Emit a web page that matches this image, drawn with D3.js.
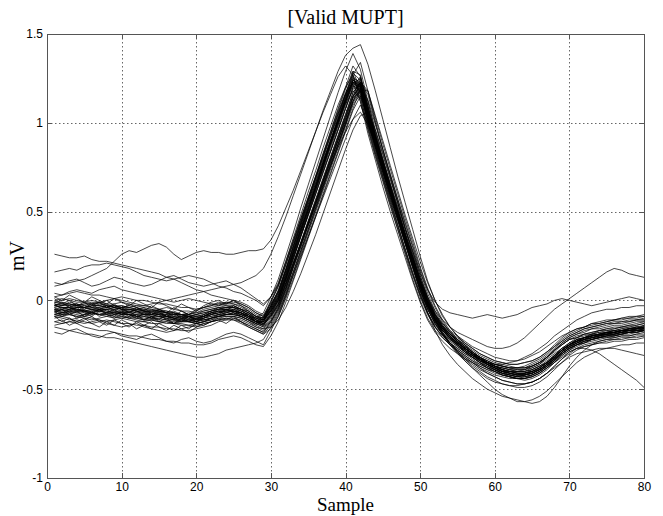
<!DOCTYPE html>
<html>
<head>
<meta charset="utf-8">
<script src="https://cdn.jsdelivr.net/npm/d3@7"></script>
<style>
  body { margin: 0; background: #fff; }
  .tick text { font-family: "Liberation Sans", Arial, sans-serif; font-size: 12px; fill: #000; }
  .lbl { font-family: "Liberation Serif", "Times New Roman", serif; fill: #000; }
</style>
</head>
<body>
<div id="chart"></div>
<script>
// Chart labels and ticks
var title = "[Valid MUPT]";
var xLabel = "Sample";
var yLabel = "mV";
var xTicks = [0, 10, 20, 30, 40, 50, 60, 70, 80];
var yTicks = [-1, -0.5, 0, 0.5, 1, 1.5];

// Waveforms, one value per sample (samples 1..80), in 0.01 mV
var core01 = [-3,-4,-4,-6,-5,-4,-4,-6,-7,-6,-5,-6,-8,-8,-7,-9,-10,-9,-11,-10,-9,-7,-6,-6,-5,-7,-9,-12,-12,-5,2,14,27,39,51,63,75,88,99,111,124,121,104,89,75,61,48,34,21,8,-3,-11,-16,-20,-24,-27,-30,-33,-35,-37,-39,-40,-41,-42,-40,-38,-35,-31,-27,-25,-23,-22,-20,-20,-18,-18,-17,-16,-16,-15];
var core02 = [-1,-1,-2,-3,-2,-1,-2,-3,-3,-4,-3,-4,-5,-5,-6,-6,-7,-8,-7,-8,-6,-5,-4,-3,-3,-5,-6,-9,-10,-1,8,20,33,46,58,70,83,95,107,119,129,119,100,85,70,57,43,29,15,3,-7,-14,-19,-22,-25,-28,-31,-33,-36,-38,-39,-40,-40,-40,-38,-36,-32,-29,-25,-22,-21,-19,-18,-17,-16,-15,-15,-14,-13,-12];
var core03 = [-7,-8,-7,-8,-9,-8,-7,-8,-9,-10,-9,-10,-11,-11,-12,-12,-13,-13,-14,-13,-12,-11,-10,-9,-9,-10,-12,-15,-16,-11,-4,6,18,30,42,54,66,78,90,102,115,125,112,96,82,68,55,41,28,14,2,-7,-14,-19,-23,-27,-30,-33,-36,-38,-40,-42,-43,-43,-42,-40,-37,-33,-30,-27,-25,-24,-22,-21,-20,-20,-19,-18,-18,-17];
var core04 = [-5,-6,-5,-4,-3,-4,-5,-5,-4,-5,-6,-6,-6,-7,-8,-8,-8,-9,-9,-11,-10,-9,-8,-7,-6,-7,-9,-11,-13,-7,0,11,23,36,48,60,73,84,96,108,120,126,110,93,78,64,50,36,23,10,-1,-9,-15,-19,-22,-26,-29,-32,-35,-38,-40,-41,-42,-41,-40,-39,-36,-32,-28,-25,-22,-21,-20,-19,-19,-18,-17,-17,-16,-14];
var core05 = [-2,-3,-3,-2,-4,-5,-5,-4,-3,-4,-5,-5,-6,-6,-6,-7,-8,-8,-9,-9,-8,-7,-5,-4,-4,-5,-7,-10,-11,-4,4,17,30,43,56,69,82,95,108,120,132,126,107,91,76,62,47,33,19,6,-5,-13,-19,-24,-27,-30,-33,-36,-38,-40,-42,-43,-44,-44,-42,-40,-37,-33,-29,-26,-23,-21,-20,-19,-18,-17,-17,-16,-15,-15];
var core06 = [-8,-7,-6,-7,-8,-7,-6,-6,-7,-8,-8,-9,-9,-10,-10,-11,-11,-12,-12,-13,-12,-10,-9,-8,-8,-9,-11,-13,-14,-8,-1,9,21,32,44,55,67,79,90,102,114,118,102,87,73,60,46,33,20,8,-2,-10,-16,-20,-24,-27,-30,-33,-35,-37,-38,-39,-40,-40,-39,-37,-34,-31,-28,-25,-23,-22,-21,-20,-19,-19,-18,-17,-17,-16];
var core07 = [0,1,0,-1,-1,0,-1,-2,-2,-1,-2,-3,-3,-4,-5,-4,-5,-6,-6,-7,-5,-4,-3,-2,-2,-3,-5,-8,-10,-4,3,15,27,40,52,64,77,89,101,113,125,123,106,90,76,62,49,35,22,9,-2,-10,-15,-19,-22,-25,-28,-31,-33,-35,-36,-37,-38,-38,-37,-35,-32,-28,-24,-21,-19,-17,-16,-15,-14,-13,-13,-12,-11,-11];
var core08 = [-9,-10,-11,-10,-9,-10,-11,-12,-11,-10,-11,-12,-12,-13,-13,-12,-13,-14,-14,-15,-13,-12,-11,-10,-10,-11,-13,-15,-17,-12,-5,6,19,31,44,56,68,80,92,104,117,122,108,92,77,63,50,37,24,11,0,-9,-15,-20,-24,-28,-31,-34,-37,-39,-41,-43,-44,-45,-44,-42,-39,-35,-31,-28,-26,-24,-23,-22,-21,-21,-20,-20,-19,-19];
var core09 = [-4,-3,-2,-3,-4,-3,-3,-4,-5,-4,-4,-5,-6,-6,-7,-7,-8,-8,-8,-9,-8,-6,-5,-5,-6,-8,-10,-12,-9,0,9,22,35,48,61,73,86,98,110,120,127,115,97,82,68,54,40,26,12,0,-10,-17,-21,-25,-28,-31,-34,-36,-38,-39,-40,-40,-40,-39,-37,-35,-32,-28,-25,-22,-21,-20,-19,-18,-17,-17,-16,-15,-15,-14];
var core10 = [-5,-5,-6,-7,-6,-5,-6,-7,-7,-8,-8,-8,-9,-10,-9,-10,-11,-11,-12,-12,-11,-10,-8,-8,-7,-8,-10,-13,-15,-12,-5,5,16,28,40,52,64,76,88,100,112,123,116,100,85,71,57,43,30,16,4,-6,-13,-18,-22,-25,-29,-32,-35,-37,-39,-41,-42,-42,-41,-39,-37,-34,-30,-27,-24,-22,-21,-20,-19,-18,-18,-17,-16,-16];
var core11 = [-2,-3,-1,-2,-3,-2,-1,-3,-4,-3,-4,-3,-4,-5,-6,-7,-6,-8,-9,-8,-7,-6,-5,-5,-4,-6,-8,-11,-11,-5,2,13,26,38,50,62,75,87,99,112,123,121,104,89,74,60,47,33,20,7,-4,-12,-18,-22,-26,-29,-32,-35,-37,-39,-41,-42,-43,-42,-41,-39,-36,-33,-29,-26,-24,-22,-21,-20,-19,-19,-18,-18,-17,-17];
var core12 = [-6,-6,-5,-6,-7,-6,-6,-7,-8,-7,-7,-8,-8,-9,-9,-10,-11,-11,-11,-12,-10,-9,-8,-7,-6,-7,-9,-12,-13,-7,0,12,24,36,48,60,72,84,96,108,120,122,105,89,75,61,48,35,22,9,-2,-10,-16,-20,-24,-27,-30,-33,-35,-37,-39,-40,-41,-41,-39,-37,-35,-32,-28,-25,-23,-21,-20,-19,-18,-18,-17,-16,-16,-15];
var core13 = [-3,-4,-5,-4,-4,-5,-6,-5,-5,-6,-7,-7,-7,-8,-8,-9,-9,-10,-10,-9,-9,-8,-7,-6,-6,-7,-9,-12,-12,-6,0,10,21,32,43,54,65,76,86,95,102,106,99,88,75,62,49,36,23,10,-1,-10,-16,-20,-24,-27,-30,-33,-35,-37,-38,-39,-40,-40,-39,-37,-35,-32,-28,-25,-23,-21,-20,-19,-19,-18,-17,-17,-16,-16];
var core14 = [-5,-4,-4,-5,-6,-6,-5,-5,-6,-7,-6,-7,-8,-8,-9,-9,-10,-10,-11,-11,-10,-8,-7,-6,-6,-7,-9,-12,-14,-9,-2,10,23,36,49,62,75,88,101,114,127,134,118,101,85,70,55,40,26,12,0,-9,-16,-21,-25,-29,-32,-35,-38,-40,-42,-43,-44,-44,-43,-41,-38,-34,-30,-27,-25,-23,-22,-21,-20,-19,-19,-18,-17,-17];
var core15 = [4,3,4,5,4,3,3,2,1,2,1,0,0,-1,-2,-2,-3,-4,-4,-5,-4,-3,-2,-1,-1,-2,-4,-7,-9,-4,3,15,28,40,52,64,76,88,100,112,122,120,103,88,74,61,48,35,22,10,0,-8,-14,-18,-21,-24,-27,-30,-32,-34,-35,-36,-36,-35,-34,-32,-29,-25,-21,-18,-16,-15,-13,-12,-11,-11,-10,-9,-9,-8];
var core16 = [-12,-13,-12,-11,-12,-13,-12,-11,-12,-13,-13,-14,-14,-15,-15,-16,-16,-17,-17,-16,-15,-14,-12,-11,-11,-12,-14,-16,-18,-13,-6,4,16,28,40,52,64,76,88,100,112,120,106,91,77,63,50,36,23,10,-1,-11,-18,-24,-29,-33,-37,-40,-43,-45,-47,-48,-49,-49,-48,-46,-43,-39,-35,-31,-28,-26,-25,-24,-23,-22,-22,-21,-21,-20];
var core17 = [-3,-2,-3,-4,-4,-3,-3,-2,-4,-5,-5,-6,-6,-7,-7,-8,-9,-9,-10,-10,-9,-7,-6,-5,-5,-6,-8,-11,-12,-6,1,13,26,39,51,64,77,89,102,115,128,124,106,90,76,62,48,34,21,8,-3,-11,-17,-21,-25,-28,-31,-34,-36,-38,-40,-41,-42,-42,-41,-39,-36,-32,-28,-25,-22,-21,-19,-18,-18,-17,-16,-16,-15,-15];
var core18 = [-8,-7,-7,-6,-6,-7,-8,-8,-7,-7,-8,-9,-10,-10,-11,-11,-12,-12,-11,-12,-11,-10,-9,-8,-7,-8,-10,-12,-14,-9,-2,9,21,33,45,57,69,81,93,105,117,123,109,93,79,65,51,38,25,12,1,-8,-15,-19,-23,-27,-30,-33,-36,-38,-40,-41,-41,-41,-40,-38,-35,-32,-28,-25,-23,-22,-20,-19,-19,-18,-17,-17,-16,-16];
var core19 = [-1,-2,-2,-3,-2,-2,-3,-4,-3,-3,-4,-5,-5,-6,-6,-7,-7,-8,-8,-7,-6,-5,-4,-4,-3,-5,-7,-10,-11,-5,2,14,27,40,52,64,76,89,101,113,124,122,105,90,75,61,48,35,21,8,-3,-11,-17,-21,-24,-27,-30,-32,-34,-36,-37,-38,-38,-38,-36,-34,-31,-27,-23,-20,-18,-16,-15,-14,-13,-13,-12,-12,-11,-11];
var core20 = [-9,-8,-8,-9,-8,-7,-8,-9,-10,-9,-10,-10,-11,-11,-12,-13,-13,-12,-12,-13,-12,-10,-9,-9,-9,-10,-12,-14,-11,-3,5,17,30,43,55,68,80,92,104,116,125,117,99,84,70,56,42,28,15,3,-7,-15,-20,-24,-28,-31,-34,-37,-39,-41,-42,-43,-44,-43,-42,-40,-37,-34,-30,-27,-25,-23,-22,-21,-20,-20,-19,-18,-18,-17];
var core21 = [-5,-8,-6,-4,-7,-9,-6,-5,-8,-7,-9,-6,-8,-10,-7,-9,-11,-8,-10,-12,-9,-7,-8,-5,-6,-8,-7,-11,-13,-9,-3,7,19,30,42,53,65,77,88,99,114,123,118,104,90,76,62,48,35,22,10,0,-8,-15,-20,-25,-29,-32,-35,-37,-39,-40,-41,-41,-40,-38,-35,-31,-28,-25,-22,-21,-19,-20,-18,-17,-18,-16,-15,-16];
var core22 = [-2,-5,-3,-6,-4,-2,-5,-3,-6,-4,-7,-5,-4,-8,-6,-9,-7,-10,-8,-11,-8,-6,-4,-6,-3,-5,-9,-10,-12,-3,6,18,31,44,57,69,81,93,105,116,122,112,94,79,64,50,37,24,11,-1,-11,-18,-23,-27,-30,-33,-35,-37,-39,-40,-41,-42,-42,-41,-40,-38,-35,-31,-27,-24,-21,-19,-19,-17,-17,-16,-15,-15,-14,-13];
var core23 = [1,-2,0,-3,-1,-4,-2,0,-3,-5,-2,-4,-6,-3,-5,-7,-4,-6,-8,-5,-4,-2,-3,-1,-2,-4,-6,-9,-10,-3,4,16,28,41,53,65,77,89,100,112,121,118,102,87,73,60,47,34,22,10,0,-8,-13,-17,-20,-23,-26,-28,-30,-32,-33,-34,-34,-33,-31,-29,-26,-23,-20,-18,-16,-15,-13,-13,-12,-11,-11,-10,-10,-9];
var core24 = [-9,-12,-10,-13,-11,-9,-12,-14,-11,-13,-15,-12,-14,-16,-13,-15,-17,-14,-16,-13,-14,-12,-10,-11,-9,-12,-14,-16,-18,-12,-4,7,19,31,43,55,67,79,91,103,115,121,107,92,78,64,50,37,24,11,-1,-11,-19,-25,-30,-34,-38,-41,-44,-46,-47,-48,-48,-47,-46,-44,-41,-37,-33,-29,-27,-25,-24,-23,-22,-22,-21,-21,-20,-20];
var core25 = [-6,-9,-7,-10,-8,-6,-9,-7,-5,-8,-10,-8,-11,-9,-12,-10,-13,-11,-9,-12,-10,-8,-7,-5,-7,-9,-8,-12,-14,-8,0,12,25,38,51,64,77,90,103,116,129,127,109,93,78,63,49,35,22,9,-2,-11,-17,-22,-25,-29,-32,-35,-37,-39,-41,-42,-43,-42,-41,-39,-36,-33,-29,-26,-24,-22,-21,-21,-19,-19,-18,-17,-17,-16];
var core26 = [-12,-11,-14,-12,-10,-13,-15,-12,-14,-11,-13,-16,-14,-12,-15,-17,-14,-16,-18,-15,-14,-12,-11,-13,-10,-12,-15,-17,-19,-16,-9,1,12,24,36,48,60,72,84,96,108,119,118,103,88,74,60,46,33,19,7,-3,-11,-17,-22,-26,-30,-33,-36,-38,-40,-41,-42,-42,-41,-39,-36,-33,-29,-26,-24,-23,-21,-20,-20,-19,-18,-18,-17,-17];
var core27 = [2,0,3,1,-1,2,0,-2,1,-1,-3,0,-2,-4,-1,-3,-5,-2,-4,-6,-3,-1,0,-2,0,-2,-4,-7,-9,-3,5,17,29,42,54,66,78,90,102,113,123,119,102,87,72,59,46,32,19,6,-4,-12,-17,-21,-25,-28,-31,-33,-35,-37,-38,-39,-39,-39,-37,-35,-32,-28,-24,-21,-19,-18,-16,-16,-15,-14,-14,-13,-12,-12];
var core28 = [-4,-7,-5,-3,-6,-8,-5,-7,-9,-6,-8,-10,-7,-9,-11,-8,-10,-12,-9,-11,-9,-8,-6,-7,-5,-7,-10,-12,-13,-8,-2,9,20,32,43,55,67,78,90,101,112,119,113,99,85,71,57,44,31,18,6,-4,-12,-18,-23,-27,-30,-34,-36,-39,-41,-42,-43,-43,-42,-40,-37,-34,-30,-27,-25,-23,-22,-21,-20,-20,-19,-18,-18,-17];
var core29 = [-7,-5,-8,-6,-9,-7,-5,-8,-10,-8,-6,-9,-11,-9,-8,-11,-13,-10,-12,-10,-9,-7,-6,-8,-7,-9,-11,-13,-10,-1,8,20,32,44,56,67,79,90,101,111,118,114,98,83,69,55,42,29,16,4,-7,-15,-21,-25,-29,-32,-35,-38,-40,-42,-43,-44,-44,-44,-43,-41,-38,-35,-31,-28,-25,-24,-22,-21,-21,-20,-19,-19,-18,-17];
var core30 = [-3,-1,-4,-2,-5,-3,-1,-4,-2,-5,-7,-4,-6,-8,-5,-7,-9,-6,-8,-6,-4,-3,-1,-2,0,-3,-6,-9,-11,-6,1,12,25,37,49,62,74,86,98,110,122,125,109,94,79,65,52,38,25,12,1,-8,-14,-19,-23,-26,-29,-32,-35,-37,-39,-40,-41,-41,-40,-38,-35,-32,-28,-25,-23,-21,-20,-19,-18,-18,-17,-16,-16,-15];

var odd01 = [26,25,24,24,25,23,22,22,21,20,19,18,17,16,15,13,12,10,8,6,5,3,2,1,0,-1,-3,-6,-8,-2,5,17,30,42,54,66,78,90,102,114,124,120,103,88,74,60,47,34,21,8,-3,-11,-17,-21,-24,-27,-30,-32,-34,-36,-37,-38,-38,-38,-37,-35,-32,-28,-25,-22,-20,-19,-18,-17,-16,-16,-15,-14,-14,-13];
var odd02 = [8,9,10,11,12,14,16,18,22,26,28,27,29,31,32,30,26,23,25,27,28,27,27,26,26,27,28,28,29,34,42,52,62,73,84,95,106,116,126,132,127,112,96,81,67,53,40,27,14,2,-8,-15,-20,-24,-27,-30,-32,-34,-35,-36,-36,-35,-34,-32,-30,-27,-24,-20,-17,-14,-11,-9,-7,-6,-5,-5,-4,-4,-3,-3];
var odd03 = [16,17,18,17,19,20,20,21,20,19,18,16,14,13,12,11,12,13,14,13,12,10,8,7,5,4,2,0,-3,2,10,22,34,46,58,70,82,94,106,117,126,122,106,91,77,63,50,37,24,12,2,-6,-11,-15,-18,-20,-22,-24,-26,-27,-27,-26,-24,-21,-17,-13,-9,-5,-2,1,4,7,10,13,16,18,17,15,14,13];
var odd04 = [-15,-16,-17,-18,-19,-19,-20,-21,-21,-22,-23,-24,-25,-26,-27,-28,-29,-30,-31,-32,-32,-31,-30,-28,-27,-26,-25,-24,-22,-15,-8,3,15,27,39,51,63,75,87,99,111,118,104,89,75,61,48,35,22,9,-2,-11,-18,-24,-29,-34,-38,-42,-46,-50,-53,-55,-57,-57,-56,-54,-51,-47,-43,-39,-35,-32,-30,-28,-27,-26,-25,-25,-24,-24];
var odd05 = [10,9,11,12,10,8,9,11,13,12,10,9,8,9,11,13,14,12,10,9,8,9,10,11,9,7,4,1,-2,2,9,21,33,45,57,69,81,93,105,116,123,118,101,86,72,58,45,32,19,6,-5,-13,-19,-23,-26,-29,-31,-33,-35,-36,-37,-38,-38,-37,-35,-33,-30,-26,-22,-19,-17,-15,-14,-13,-12,-11,-10,-10,-9,-9];
var odd06 = [-18,-19,-17,-16,-18,-20,-21,-19,-18,-20,-21,-22,-20,-19,-21,-23,-24,-22,-21,-23,-24,-23,-21,-19,-18,-19,-21,-23,-25,-17,-9,2,14,26,38,50,62,74,86,98,110,116,101,86,72,58,45,32,19,6,-5,-13,-19,-24,-28,-32,-35,-38,-41,-43,-45,-46,-47,-47,-46,-44,-41,-37,-33,-30,-27,-26,-25,-24,-24,-23,-23,-22,-22,-21];
var odd07 = [-1,0,1,0,-1,-2,-1,0,1,0,-1,-2,-3,-2,-1,0,1,2,3,4,5,6,7,8,9,10,12,14,18,26,36,47,59,71,83,95,107,118,129,138,142,144,133,118,102,86,70,55,40,25,11,0,-9,-15,-20,-24,-27,-30,-32,-34,-35,-36,-36,-35,-34,-32,-29,-26,-23,-20,-18,-16,-15,-14,-13,-12,-12,-11,-11,-10];
var odd08 = [-6,-5,-4,-5,-6,-5,-4,-3,-4,-5,-5,-6,-7,-6,-5,-6,-7,-8,-9,-8,-7,-6,-5,-4,-4,-6,-8,-10,-7,2,12,25,38,52,65,78,91,104,117,129,139,130,112,95,80,65,51,37,23,10,-1,-9,-15,-19,-23,-26,-29,-32,-34,-36,-37,-38,-39,-39,-38,-36,-33,-30,-27,-24,-22,-21,-20,-19,-18,-18,-17,-16,-16,-15];
var odd09 = [-10,-9,-8,-9,-10,-11,-10,-9,-8,-9,-10,-11,-12,-11,-10,-9,-10,-11,-12,-13,-12,-11,-9,-8,-8,-9,-11,-13,-15,-10,-3,8,20,32,44,56,68,80,92,104,115,120,106,91,76,62,49,35,22,9,-2,-10,-16,-21,-25,-29,-32,-35,-38,-40,-42,-43,-44,-44,-43,-41,-38,-35,-32,-29,-27,-27,-28,-30,-33,-36,-39,-42,-45,-49];
var odd10 = [-8,-9,-10,-12,-13,-12,-11,-13,-14,-15,-14,-13,-15,-16,-17,-18,-17,-16,-15,-14,-13,-12,-11,-10,-11,-13,-15,-17,-19,-14,-7,3,14,25,36,47,58,69,80,91,102,110,100,87,74,60,46,32,18,5,-7,-17,-25,-31,-36,-40,-44,-47,-50,-52,-54,-55,-56,-57,-58,-57,-54,-49,-43,-37,-32,-28,-25,-23,-22,-21,-20,-20,-19,-18];
var odd11 = [2,3,5,6,5,4,6,7,8,6,5,4,3,2,1,0,-1,0,1,0,-1,-2,-2,-3,-4,-5,-7,-9,-11,-6,1,12,24,36,48,60,72,84,96,108,119,121,106,92,79,66,53,40,28,16,6,-1,-5,-7,-8,-9,-10,-9,-8,-9,-10,-9,-8,-6,-4,-3,-2,0,1,0,-1,-2,-3,-2,-1,0,1,2,1,0];
var odd12 = [-14,-13,-12,-13,-15,-16,-17,-17,-18,-19,-20,-20,-21,-22,-22,-23,-23,-24,-24,-25,-25,-24,-22,-21,-20,-21,-23,-25,-26,-20,-12,-1,11,23,35,47,59,71,83,95,107,115,104,90,76,62,48,35,22,9,-3,-12,-19,-25,-29,-33,-36,-39,-41,-43,-45,-46,-47,-47,-46,-44,-41,-38,-35,-32,-30,-29,-28,-27,-27,-27,-28,-29,-30,-31];
var odd13 = [-6,-7,-6,-5,-6,-7,-8,-7,-6,-7,-8,-9,-8,-7,-8,-9,-10,-10,-9,-10,-11,-10,-9,-8,-8,-9,-11,-14,-16,-15,-11,-4,5,15,26,37,49,61,73,85,96,104,106,96,83,69,55,41,27,14,2,-8,-15,-20,-24,-28,-31,-34,-36,-38,-40,-41,-42,-42,-41,-39,-36,-33,-29,-26,-24,-22,-21,-20,-19,-19,-18,-17,-17,-16];

var traces = [core01, core02, core03, core04, core05, core06, core07, core08, core09, core10,
  core11, core12, core13, core14, core15, core16, core17, core18, core19, core20,
  core21, core22, core23, core24, core25, core26, core27, core28, core29, core30,
  odd01, odd02, odd03, odd04, odd05, odd06, odd07, odd08, odd09, odd10, odd11, odd12, odd13];

var width = 663;
var height = 516;
var margin = { top: 34, right: 19, bottom: 38, left: 47 };
var innerWidth = width - margin.left - margin.right;
var innerHeight = height - margin.top - margin.bottom;

var svg = d3
  .select("#chart")
  .append("svg")
  .attr("width", width)
  .attr("height", height);

var g = svg
  .append("g")
  .attr("transform", "translate(" + margin.left + "," + margin.top + ")");

var xScale = d3.scaleLinear().domain([0, 80]).range([0, innerWidth]);
var yScale = d3.scaleLinear().domain([-1, 1.5]).range([innerHeight, 0]);

// Dotted grid
g.append("g")
  .selectAll("line")
  .data(xTicks.slice(1, -1))
  .enter()
  .append("line")
  .attr("x1", (d) => Math.round(xScale(d)) + 0.5)
  .attr("x2", (d) => Math.round(xScale(d)) + 0.5)
  .attr("y1", 0)
  .attr("y2", innerHeight)
  .attr("stroke", "#000")
  .attr("stroke-width", 0.6)
  .attr("stroke-dasharray", "1.5,2.5");

g.append("g")
  .selectAll("line")
  .data(yTicks.slice(1, -1))
  .enter()
  .append("line")
  .attr("x1", 0)
  .attr("x2", innerWidth)
  .attr("y1", (d) => Math.round(yScale(d)) + 0.5)
  .attr("y2", (d) => Math.round(yScale(d)) + 0.5)
  .attr("stroke", "#000")
  .attr("stroke-width", 0.6)
  .attr("stroke-dasharray", "1.5,2.5");

// Waveforms
var line = d3
  .line()
  .x((d, i) => xScale(i + 1))
  .y((d) => yScale(d / 100));

g.append("g")
  .selectAll("path")
  .data(traces)
  .enter()
  .append("path")
  .attr("d", line)
  .attr("fill", "none")
  .attr("stroke", "#000")
  .attr("stroke-width", 0.8)
  .attr("stroke-opacity", 0.9);

// Axes
var xAxis = d3.axisBottom(xScale).tickValues(xTicks).tickSize(0).tickPadding(4).tickFormat(d3.format("d"));
var yAxis = d3.axisLeft(yScale).tickValues(yTicks).tickSize(0).tickPadding(4).tickFormat((d) => d);

g.append("g")
  .attr("transform", "translate(0," + innerHeight + ")")
  .call(xAxis)
  .call((s) => s.select(".domain").remove());

g.append("g")
  .call(yAxis)
  .call((s) => s.select(".domain").remove());

// Inner tick marks on all four sides
var tickLen = 5;
var ticks = g.append("g").attr("stroke", "#555").attr("stroke-width", 1);
xTicks.forEach(function (d) {
  var x = Math.round(xScale(d)) + 0.5;
  ticks.append("line").attr("x1", x).attr("x2", x).attr("y1", innerHeight).attr("y2", innerHeight - tickLen);
  ticks.append("line").attr("x1", x).attr("x2", x).attr("y1", 0).attr("y2", tickLen);
});
yTicks.forEach(function (d) {
  var y = Math.round(yScale(d)) + 0.5;
  ticks.append("line").attr("x1", 0).attr("x2", tickLen).attr("y1", y).attr("y2", y);
  ticks.append("line").attr("x1", innerWidth).attr("x2", innerWidth - tickLen).attr("y1", y).attr("y2", y);
});

// Frame
g.append("rect")
  .attr("x", 0.5)
  .attr("y", 0.5)
  .attr("width", innerWidth)
  .attr("height", innerHeight)
  .attr("fill", "none")
  .attr("stroke", "#555")
  .attr("stroke-width", 1);

// Labels
svg.append("text")
  .attr("class", "lbl")
  .attr("x", margin.left + innerWidth / 2)
  .attr("y", 24)
  .attr("text-anchor", "middle")
  .attr("font-size", "20px")
  .text(title);

svg.append("text")
  .attr("class", "lbl")
  .attr("x", margin.left + innerWidth / 2)
  .attr("y", 511)
  .attr("text-anchor", "middle")
  .attr("font-size", "19px")
  .text(xLabel);

svg.append("text")
  .attr("class", "lbl")
  .attr("transform", "translate(24," + (margin.top + innerHeight / 2) + ") rotate(-90)")
  .attr("text-anchor", "middle")
  .attr("font-size", "20px")
  .text(yLabel);
</script>
</body>
</html>
